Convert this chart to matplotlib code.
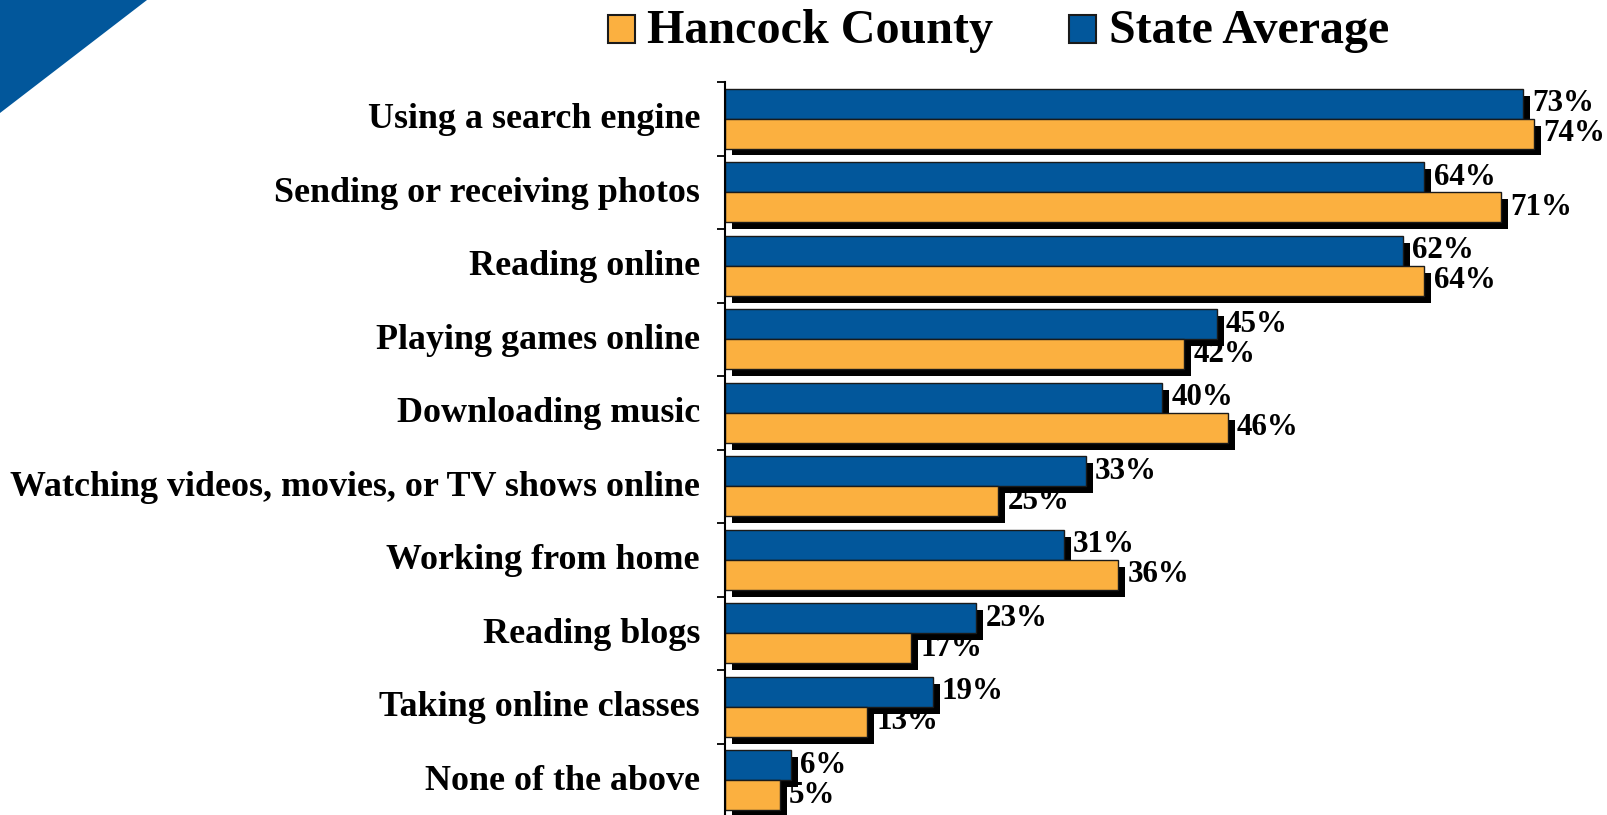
import matplotlib
matplotlib.use("Agg")
import matplotlib.pyplot as plt
from matplotlib.patches import Polygon, Rectangle
import matplotlib.transforms as mtransforms
import numpy as np

categories = [
    "Using a search engine",
    "Sending or receiving photos",
    "Reading online",
    "Playing games online",
    "Downloading music",
    "Watching videos, movies, or TV shows online",
    "Working from home",
    "Reading blogs",
    "Taking online classes",
    "None of the above",
]
state_avg = [73, 64, 62, 45, 40, 33, 31, 23, 19, 6]
hancock = [74, 71, 64, 42, 46, 25, 36, 17, 13, 5]
series_names = ["Hancock County", "State Average"]

BLUE = "#02579B"
ORANGE = "#FBB040"
FONT = "Liberation Serif"

W, H = 1608, 815
fig = plt.figure(figsize=(W / 100, H / 100), dpi=100)
ax = fig.add_axes([725 / W, 1 - 817 / H, 1 - 725 / W, (817 - 82) / H])

y = np.arange(len(categories))
bh = 0.405
dx = 0.64
dy = 0.095

# shadows
ax.barh(y - bh / 2 + dy, state_avg, height=bh, left=dx, color="black", zorder=1)
ax.barh(y + bh / 2 + dy, hancock, height=bh, left=dx, color="black", zorder=1)
# bars
ax.barh(y - bh / 2, state_avg, height=bh, color=BLUE, edgecolor="#1a1a1a", linewidth=1.0, zorder=2)
ax.barh(y + bh / 2, hancock, height=bh, color=ORANGE, edgecolor="#1a1a1a", linewidth=1.0, zorder=2)

for yi, v in zip(y, state_avg):
    ax.text(v + 0.85, yi - bh / 2, f"{v}%", va="center", ha="left",
            fontsize=22.3, fontweight="bold", family=FONT, zorder=0.5)
for yi, v in zip(y, hancock):
    ax.text(v + 0.85, yi + bh / 2, f"{v}%", va="center", ha="left",
            fontsize=22.3, fontweight="bold", family=FONT, zorder=0.5)

ax.set_xlim(0, 80.8)
ax.set_ylim(len(categories) - 0.5, -0.5)
for s in ["top", "right", "bottom"]:
    ax.spines[s].set_visible(False)
ax.spines["left"].set_linewidth(1.5)
ax.set_xticks([])
ax.set_yticks(np.arange(len(categories) + 1) - 0.5)
ax.set_yticklabels([])
ax.tick_params(axis="y", which="major", length=6, width=1.3, direction="out")
ax.set_yticks(y, minor=True)
ax.set_yticklabels(categories, minor=True)
ax.tick_params(axis="y", which="minor", length=0, pad=18)
shift = mtransforms.ScaledTranslation(0, 3 / 100, fig.dpi_scale_trans)
for lab in ax.get_yticklabels(minor=True):
    lab.set_fontsize(25.9)
    lab.set_fontweight("bold")
    lab.set_family(FONT)
    lab.set_transform(lab.get_transform() + shift)

# legend (manual)
def legend_item(x0, x1, color, tx, text):
    fig.patches.append(Rectangle((x0 / W, 1 - 43 / H), (x1 - x0) / W, 28 / H,
                                 transform=fig.transFigure, facecolor=color,
                                 edgecolor="#1a1a1a", linewidth=1.5))
    fig.text(tx / W, 1 - 43 / H, text, fontsize=34.6, fontweight="bold",
             family=FONT, va="baseline", ha="left")

legend_item(608, 635, ORANGE, 647, series_names[0])
legend_item(1069, 1096, BLUE, 1109, series_names[1])

# decorative corner
fig.patches.append(Polygon([(0, 1), (147 / W, 1), (0, 1 - 113 / H)], closed=True,
                           transform=fig.transFigure, facecolor=BLUE, edgecolor="none"))

fig.savefig("out.png", dpi=100)
